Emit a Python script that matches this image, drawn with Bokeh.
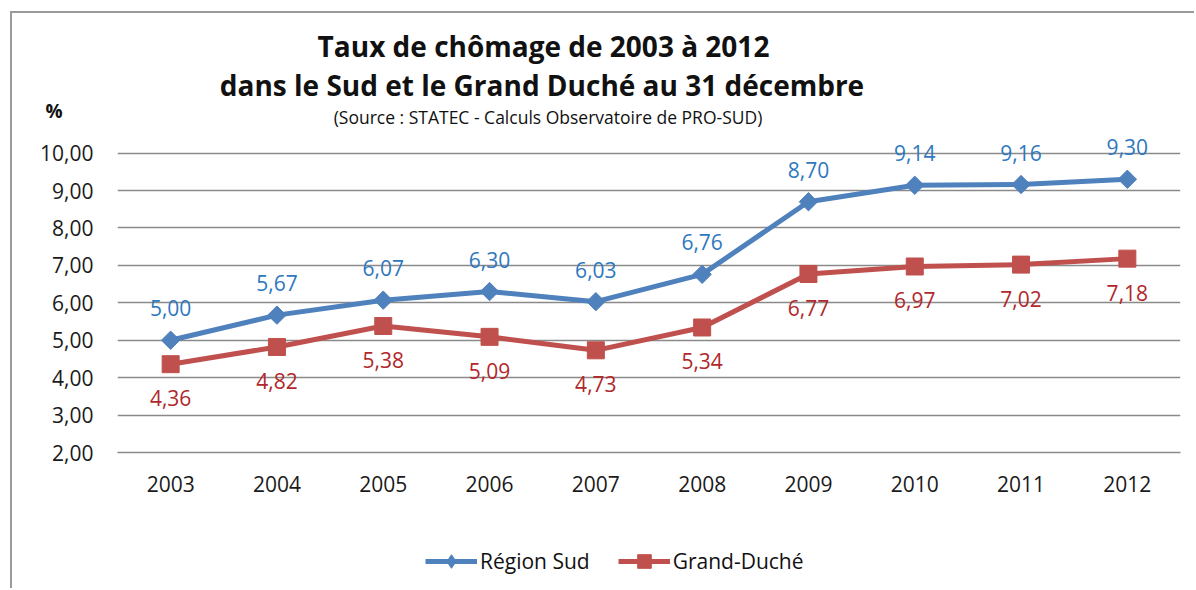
import math
from bokeh.plotting import figure
from bokeh.layouts import column
from bokeh.models import (FactorRange, Range1d, FixedTicker, Label, Legend, LegendItem,
                          ColumnDataSource, CustomJSTickFormatter)
from bokeh.core.properties import value
from bokeh.embed import file_html
from bokeh.resources import INLINE

years = ["2003", "2004", "2005", "2006", "2007", "2008", "2009", "2010", "2011", "2012"]
region_sud = [5.00, 5.67, 6.07, 6.30, 6.03, 6.76, 8.70, 9.14, 9.16, 9.30]
grand_duche = [4.36, 4.82, 5.38, 5.09, 4.73, 5.34, 6.77, 6.97, 7.02, 7.18]
y_ticks = [2, 3, 4, 5, 6, 7, 8, 9, 10]

title_1 = "Taux de chômage de 2003 à 2012"
title_2 = "dans le Sud et le Grand Duché au 31 décembre"
subtitle = "(Source : STATEC - Calculs Observatoire de PRO-SUD)"
unit = "%"
series_names = ["Région Sud", "Grand-Duché"]

FONT = "Open Sans"
BLUE = "#4F81BD"
RED = "#C0504D"
BLUE_TXT = "#2E78BE"
RED_TXT = "#B0282C"
INK = "#111111"
W = 1182
NAN = float("nan")


def fmt(v):
    return f"{v:.2f}".replace(".", ",")


def bare(fig):
    fig.outline_line_color = None
    fig.background_fill_color = "white"
    fig.border_fill_color = "white"
    fig.xgrid.grid_line_color = None
    fig.ygrid.grid_line_color = None
    fig.min_border_left = fig.min_border_right = fig.min_border_top = fig.min_border_bottom = 0


# ---------------- header (titles) ----------------
# frames of the stacked figures are aligned: header x coordinates = page pixels 117..1180
HH = 119
header = figure(width=W, height=HH, output_backend="svg", toolbar_location=None,
                x_range=Range1d(117, 1180), y_range=Range1d(HH, 0), x_axis_type=None)
bare(header)
header.yaxis.ticker = FixedTicker(ticks=[97])
header.yaxis.formatter = CustomJSTickFormatter(args=dict(u=unit), code="return u;")
header.yaxis.axis_line_color = None
header.yaxis.major_tick_line_color = None
header.yaxis.minor_tick_line_color = None
header.yaxis.major_label_text_font = FONT
header.yaxis.major_label_text_font_size = "19px"
header.yaxis.major_label_text_font_style = "bold"
header.yaxis.major_label_text_color = INK
header.yaxis.major_label_standoff = 49

header.add_layout(Label(x=543, y=32, text=title_1, text_font=FONT, text_font_size="28px",
                        text_font_style="bold", text_align="center", text_baseline="alphabetic",
                        text_color=INK))
header.add_layout(Label(x=541.5, y=71, text=title_2, text_font=FONT, text_font_size="28px",
                        text_font_style="bold", text_align="center", text_baseline="alphabetic",
                        text_color=INK))
header.add_layout(Label(x=547.5, y=103, text=subtitle, text_font=FONT, text_font_size="17.5px",
                        text_align="center", text_baseline="alphabetic", text_color=INK))

# ---------------- main chart ----------------
src = ColumnDataSource(dict(
    x=years,
    sud=region_sud,
    gd=grand_duche,
    sud_lbl=[fmt(v) for v in region_sud],
    gd_lbl=[fmt(v) for v in grand_duche],
))

p = figure(width=W, height=370, output_backend="svg", toolbar_location=None,
           x_range=FactorRange(*years), y_range=Range1d(2, 10.55),
           min_border_left=105, min_border_right=14, min_border_top=0, min_border_bottom=50)
p.outline_line_color = None
p.background_fill_color = "white"
p.border_fill_color = "white"

p.xgrid.grid_line_color = None
p.ygrid.grid_line_color = "#8a8a8a"
p.ygrid.grid_line_width = 1.6
p.yaxis.ticker = FixedTicker(ticks=y_ticks)
p.yaxis.formatter = CustomJSTickFormatter(code="return tick.toFixed(2).replace('.', ',');")
for ax in (p.xaxis[0], p.yaxis[0]):
    ax.major_tick_line_color = None
    ax.minor_tick_line_color = None
    ax.major_label_text_font = FONT
    ax.major_label_text_font_size = "21px"
    ax.major_label_text_color = "#1a1a1a"
p.yaxis.axis_line_color = None
p.yaxis.major_label_standoff = 18
p.xaxis.axis_line_color = "#8a8a8a"
p.xaxis.axis_line_width = 1.6
p.xaxis.major_label_standoff = 17

p.line("x", "sud", source=src, line_color=BLUE, line_width=5)
p.scatter("x", "sud", source=src, marker="square", angle=math.pi / 4, size=13,
          fill_color=BLUE, line_color=BLUE)
p.line("x", "gd", source=src, line_color=RED, line_width=5)
p.scatter("x", "gd", source=src, marker="square", size=17, fill_color=RED, line_color=RED)

p.text("x", "sud", text="sud_lbl", source=src, text_font=value(FONT), text_font_size="21px",
       text_color=BLUE_TXT, text_align="center", text_baseline="middle", y_offset=-32)
p.text("x", "gd", text="gd_lbl", source=src, text_font=value(FONT), text_font_size="21px",
       text_color=RED_TXT, text_align="center", text_baseline="middle", y_offset=34)

# ---------------- legend strip ----------------
LH = 86
leg = figure(width=W, height=LH, output_backend="svg", toolbar_location=None,
             x_range=Range1d(0, 1), y_range=Range1d(0, 1), x_axis_type=None, y_axis_type=None)
bare(leg)
ll1 = leg.line(x=[NAN], y=[NAN], line_color=BLUE, line_width=5)
ls1 = leg.scatter(x=[NAN], y=[NAN], marker="diamond", fill_color=BLUE, line_color=BLUE)
ll2 = leg.line(x=[NAN], y=[NAN], line_color=RED, line_width=5)
ls2 = leg.scatter(x=[NAN], y=[NAN], marker="square", fill_color=RED, line_color=RED)
legend = Legend(items=[LegendItem(label=series_names[0], renderers=[ll1, ls1]),
                       LegendItem(label=series_names[1], renderers=[ll2, ls2])],
                orientation="horizontal", location=(308, 10),
                label_text_font=FONT, label_text_font_size="21px", label_text_color=INK,
                glyph_width=52, glyph_height=34, label_standoff=3, spacing=28,
                padding=0, margin=0, border_line_color=None, background_fill_alpha=0)
leg.add_layout(legend)

layout = column(header, p, leg, spacing=0, margin=(11, 0, 0, 10),
                styles={"border-left": "2px solid #9a9a9a", "border-top": "2px solid #9a9a9a"})

open("out.html", "w").write(file_html(layout, INLINE))
